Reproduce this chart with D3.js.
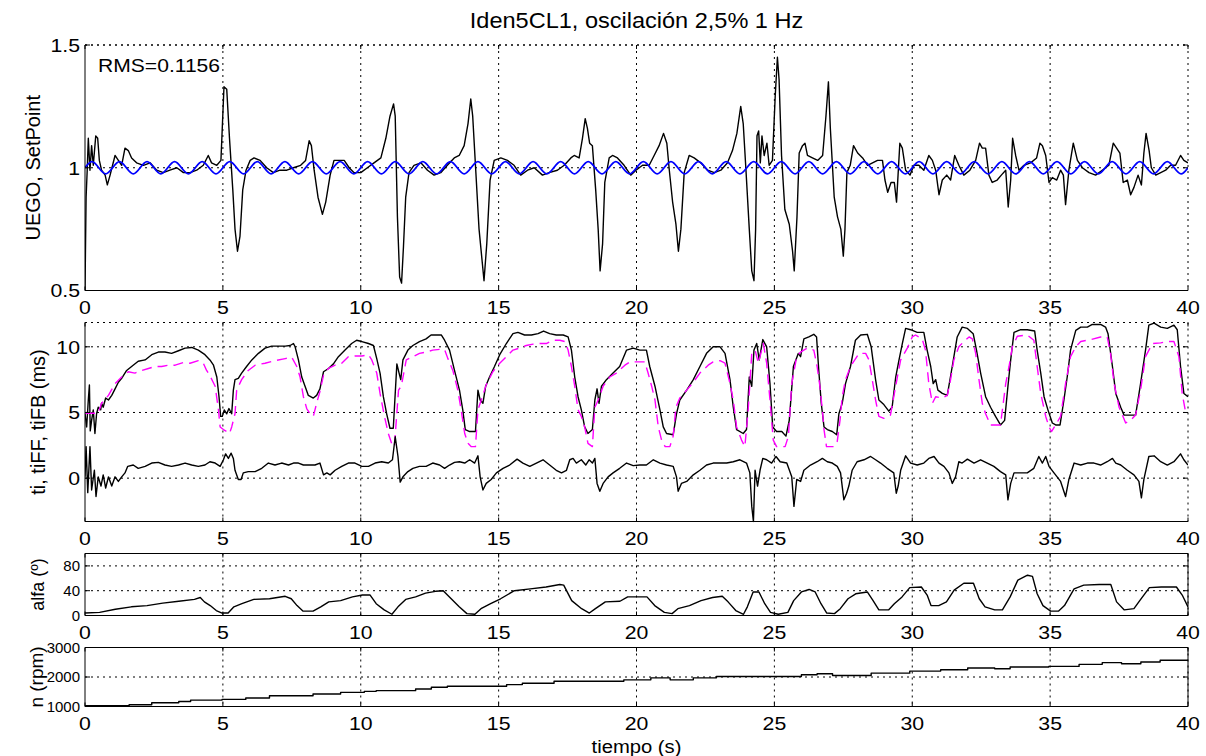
<!DOCTYPE html>
<html>
<head>
<meta charset="utf-8">
<script src="https://cdn.jsdelivr.net/npm/d3@7"></script>
<style>
  body { margin: 0; background: #fff; }
  svg { display: block; }
  text { font-family: "Liberation Sans", Arial, sans-serif; fill: #000; }
</style>
</head>
<body>
<div id="viz-container"></div>
<script>
// x ticks shared by all four subplots
const timeTicks = [0, 5, 10, 15, 20, 25, 30, 35, 40];

// UEGO lambda reading [t (s), value]
const uego = [[0,0.5],[0.04,0.88],[0.08,0.99],[0.12,1.12],[0.18,0.99],[0.24,1.09],[0.3,1.01],[0.39,1.13],[0.46,1.12],
  [0.52,1.03],[0.6,0.99],[0.73,0.97],[0.81,0.93],[0.91,0.97],[1.0,1.01],[1.09,1.05],[1.21,1.03],[1.33,1.01],[1.45,1.08],
  [1.57,1.07],[1.69,1.04],[1.87,1.02],[2.12,1.01],[2.36,1.02],[2.6,0.99],[2.84,0.98],[3.08,0.99],[3.33,1.0],[3.57,0.98],
  [3.81,0.98],[4.05,0.99],[4.29,1.01],[4.47,1.05],[4.59,1.02],[4.78,1.01],[4.93,1.03],[5.04,1.33],[5.14,1.32],[5.24,1.12],
  [5.36,0.91],[5.44,0.75],[5.53,0.66],[5.62,0.72],[5.72,0.91],[5.84,0.99],[5.99,1.03],[6.13,1.04],[6.35,1.03],[6.59,1.0],
  [6.83,0.98],[7.07,0.99],[7.32,0.99],[7.56,1.0],[7.82,1.01],[8.0,1.03],[8.13,1.11],[8.21,1.09],[8.31,0.99],[8.45,0.88],
  [8.61,0.81],[8.73,0.86],[8.89,0.97],[9.03,1.03],[9.21,1.03],[9.4,1.03],[9.58,1.0],[9.76,0.98],[10.0,0.98],[10.24,1.0],
  [10.48,1.02],[10.73,1.04],[10.91,1.12],[11.06,1.21],[11.19,1.26],[11.25,1.21],[11.33,0.8],[11.41,0.555],[11.48,0.53],
  [11.55,0.68],[11.63,0.88],[11.75,0.98],[11.93,1.01],[12.18,1.02],[12.42,0.99],[12.66,0.97],[12.9,0.98],[13.14,1.01],
  [13.39,1.04],[13.57,1.05],[13.75,1.09],[13.89,1.18],[13.99,1.28],[14.06,1.21],[14.17,0.99],[14.29,0.75],[14.41,0.61],
  [14.47,0.54],[14.57,0.69],[14.69,0.95],[14.84,1.03],[15.08,1.04],[15.32,1.03],[15.56,1.01],[15.8,0.97],[16.05,0.99],
  [16.29,1.0],[16.59,0.97],[16.83,0.98],[17.13,0.99],[17.38,1.01],[17.62,1.04],[17.74,1.05],[17.92,1.04],[18.04,1.12],
  [18.14,1.2],[18.22,1.16],[18.3,1.1],[18.4,1.09],[18.52,0.91],[18.61,0.75],[18.68,0.58],[18.77,0.69],[18.85,0.94],
  [19.01,1.04],[19.13,1.05],[19.31,1.04],[19.55,1.01],[19.79,0.97],[19.98,0.99],[20.22,1.01],[20.46,1.01],[20.64,1.05],
  [20.82,1.09],[20.98,1.14],[21.1,1.1],[21.19,0.99],[21.31,0.86],[21.43,0.77],[21.52,0.66],[21.61,0.75],[21.73,0.98],
  [21.91,1.05],[22.09,1.04],[22.33,1.02],[22.58,0.99],[22.82,0.98],[23.06,0.99],[23.3,1.02],[23.48,1.07],[23.64,1.14],
  [23.78,1.25],[23.87,1.18],[23.97,0.99],[24.09,0.75],[24.18,0.58],[24.26,0.54],[24.32,0.75],[24.37,1.13],[24.43,1.15],
  [24.49,1.02],[24.55,1.13],[24.63,1.05],[24.73,1.1],[24.81,1.01],[24.93,1.03],[25.03,1.29],[25.11,1.45],[25.17,1.36],
  [25.26,1.05],[25.38,0.83],[25.54,0.77],[25.66,0.66],[25.72,0.58],[25.82,0.8],[25.9,1.06],[26.02,1.09],[26.11,1.1],
  [26.2,1.05],[26.38,1.04],[26.57,1.03],[26.75,1.05],[26.87,1.21],[26.96,1.35],[27.03,1.16],[27.17,0.88],[27.29,0.8],
  [27.41,0.75],[27.5,0.64],[27.56,0.75],[27.63,0.98],[27.75,1.01],[27.87,1.09],[28.02,1.06],[28.2,1.04],[28.38,1.01],
  [28.56,1.02],[28.74,1.03],[28.92,1.03],[29.01,0.95],[29.11,0.9],[29.23,0.94],[29.35,0.94],[29.43,0.86],[29.55,1.1],
  [29.64,1.08],[29.76,0.99],[29.92,0.97],[30.06,1.01],[30.24,1.01],[30.42,0.99],[30.6,1.05],[30.73,1.03],[30.85,0.99],
  [30.97,0.89],[31.09,0.95],[31.25,0.97],[31.39,0.95],[31.54,1.05],[31.69,1.01],[31.87,0.97],[32.09,0.99],[32.3,1.03],
  [32.44,1.1],[32.54,1.08],[32.66,1.08],[32.78,0.97],[32.9,0.94],[33.08,0.95],[33.23,0.97],[33.39,0.99],[33.48,0.84],
  [33.57,0.95],[33.64,1.12],[33.75,1.05],[33.87,0.99],[34.05,1.01],[34.29,1.02],[34.51,1.04],[34.63,1.1],[34.72,1.09],
  [34.84,1.05],[34.96,0.94],[35.08,0.96],[35.24,0.95],[35.38,0.99],[35.48,0.97],[35.56,0.85],[35.68,0.99],[35.84,1.1],
  [35.99,1.03],[36.17,1.0],[36.41,0.98],[36.65,0.97],[36.89,0.99],[37.13,1.01],[37.29,1.1],[37.41,1.08],[37.53,1.06],
  [37.65,0.94],[37.8,0.95],[37.92,0.89],[38.04,0.92],[38.19,0.97],[38.31,0.93],[38.4,1.06],[38.48,1.14],[38.59,1.07],
  [38.67,1.0],[38.83,0.97],[39.01,0.98],[39.19,0.99],[39.37,1.01],[39.55,1.01],[39.73,1.05],[39.85,1.03],[40.0,1.02]];

// set point, sampled every 0.25 s
const spStep = 0.25;
const setPoint = [
  1,1.025,1,0.975, 1,1.025,1,0.975, 1,1.025,1,0.975, 1,1.025,1,0.975, 1,1.025,1,0.975,
  1,1.025,1,0.975, 1,1.025,1,0.975, 1,1.025,1,0.975, 1,1.025,1,0.975, 1,1.025,1,0.975,
  1,1.025,1,0.975, 1,1.025,1,0.975, 1,1.025,1,0.975, 1,1.025,1,0.975, 1,1.025,1,0.975,
  1,1.025,1,0.975, 1,1.025,1,0.975, 1,1.025,1,0.975, 1,1.025,1,0.975, 1,1.025,1,0.975,
  1,1.025,1,0.975, 1,1.025,1,0.975, 1,1.025,1,0.975, 1,1.025,1,0.975, 1,1.025,1,0.975,
  1,1.025,1,0.975, 1,1.025,1,0.975, 1,1.025,1,0.975, 1,1.025,1,0.975, 1,1.025,1,0.975,
  1,1.025,1,0.975, 1,1.025,1,0.975, 1,1.025,1,0.975, 1,1.025,1,0.975, 1,1.025,1,0.975,
  1,1.025,1,0.975, 1,1.025,1,0.975, 1,1.025,1,0.975, 1,1.025,1,0.975, 1,1.025,1,0.975,
  1];

// injection time total (ms)
const ti = [[0,4.94],[0.06,3.9],[0.12,5.95],[0.16,7.1],[0.19,3.6],[0.24,4.4],[0.3,5.2],[0.36,3.4],[0.42,4.9],[0.48,5.4],
  [0.57,5.2],[0.6,5.7],[0.66,5.4],[0.75,6.1],[0.85,5.95],[0.97,6.3],[1.09,6.8],[1.21,7.3],[1.33,7.6],[1.51,8.2],
  [1.69,8.5],[1.93,8.9],[2.18,9.0],[2.42,9.4],[2.66,9.6],[2.9,9.6],[3.14,9.5],[3.39,9.7],[3.63,9.9],[3.87,9.95],
  [4.11,9.75],[4.35,9.4],[4.53,9.0],[4.66,8.6],[4.78,7.7],[4.86,6.2],[4.92,4.7],[4.98,4.7],[5.05,5.2],[5.14,4.9],
  [5.22,5.3],[5.32,4.9],[5.38,6.7],[5.44,7.5],[5.56,7.6],[5.68,8.0],[5.86,8.5],[6.05,9.0],[6.29,9.5],[6.53,9.9],
  [6.77,10.05],[7.01,10.05],[7.26,10.05],[7.44,10.1],[7.56,10.25],[7.62,10.0],[7.74,9.0],[7.86,7.7],[7.98,7.0],
  [8.1,6.3],[8.28,6.1],[8.4,6.3],[8.52,6.8],[8.65,8.1],[8.83,8.35],[9.01,8.7],[9.19,9.25],[9.43,9.75],[9.67,10.25],
  [9.85,10.5],[10.04,10.4],[10.28,10.25],[10.46,10.1],[10.58,9.1],[10.7,8.0],[10.82,6.2],[10.94,4.9],[11.06,3.8],
  [11.18,3.8],[11.31,8.7],[11.39,8.0],[11.45,7.5],[11.53,9.0],[11.71,9.75],[11.89,10.1],[12.13,10.4],[12.37,10.6],
  [12.55,10.9],[12.74,10.9],[12.92,10.9],[13.04,10.5],[13.22,9.75],[13.4,8.2],[13.58,6.7],[13.7,5.2],[13.79,3.7],
  [13.95,3.55],[14.16,3.55],[14.25,6.7],[14.33,5.95],[14.43,5.7],[14.53,7.0],[14.67,7.7],[14.85,8.5],[15.04,9.4],
  [15.28,10.25],[15.52,11.0],[15.7,11.1],[15.94,10.9],[16.19,10.9],[16.43,11.0],[16.63,11.2],[16.85,11.0],[17.09,10.9],
  [17.34,10.9],[17.52,10.75],[17.64,9.75],[17.76,7.7],[17.88,6.2],[18.0,5.2],[18.12,3.9],[18.24,3.4],[18.4,3.7],
  [18.49,5.95],[18.57,6.8],[18.64,5.7],[18.73,7.0],[18.91,7.5],[19.15,8.0],[19.39,8.5],[19.64,9.75],[19.88,9.9],
  [20.12,9.75],[20.36,9.75],[20.48,8.5],[20.67,7.0],[20.85,5.2],[20.97,3.9],[21.09,3.4],[21.33,3.3],[21.45,4.9],
  [21.57,5.95],[21.82,6.7],[22.06,7.5],[22.3,8.5],[22.54,9.5],[22.78,10.0],[23.03,10.0],[23.21,9.5],[23.39,7.5],
  [23.51,5.4],[23.63,3.7],[23.87,3.4],[23.99,3.7],[24.09,7.7],[24.18,7.0],[24.26,9.75],[24.36,10.25],[24.45,9.0],
  [24.58,10.55],[24.72,10.0],[24.84,7.2],[24.94,3.9],[25.08,3.55],[25.27,3.55],[25.42,3.2],[25.54,4.4],[25.69,8.5],
  [25.87,9.5],[25.95,9.25],[26.07,10.6],[26.25,10.75],[26.43,10.95],[26.53,10.75],[26.61,8.2],[26.7,5.7],[26.8,3.9],
  [26.92,3.7],[27.1,3.55],[27.26,3.3],[27.34,4.9],[27.46,5.7],[27.58,7.2],[27.76,8.5],[27.94,10.5],[28.13,10.9],
  [28.37,10.95],[28.51,10.0],[28.67,7.5],[28.79,5.95],[28.97,5.6],[29.15,5.1],[29.27,5.4],[29.4,7.7],[29.52,9.0],
  [29.64,10.25],[29.76,11.4],[29.94,11.3],[30.18,11.1],[30.42,11.1],[30.54,9.75],[30.67,8.5],[30.76,7.2],[30.85,7.5],
  [30.93,6.7],[31.09,6.45],[31.27,6.3],[31.45,8.5],[31.63,10.75],[31.81,11.5],[32.0,11.4],[32.21,11.0],[32.33,9.75],
  [32.48,8.0],[32.66,6.2],[32.84,5.4],[33.02,4.7],[33.2,4.05],[33.35,4.4],[33.47,7.0],[33.57,9.0],[33.69,11.1],
  [33.93,11.3],[34.17,11.3],[34.44,11.2],[34.53,9.75],[34.66,8.0],[34.78,6.2],[34.92,5.2],[35.08,4.2],[35.2,4.05],
  [35.36,4.05],[35.5,5.95],[35.62,7.7],[35.74,9.75],[35.93,11.25],[36.11,11.5],[36.35,11.5],[36.53,11.7],[36.83,11.7],
  [37.01,11.5],[37.1,11.0],[37.26,8.5],[37.38,6.45],[37.56,5.4],[37.68,4.8],[37.92,4.8],[38.1,4.8],[38.28,7.2],
  [38.46,9.75],[38.58,11.65],[38.77,11.8],[39.01,11.5],[39.25,11.4],[39.49,11.65],[39.61,11.3],[39.73,8.5],
  [39.85,6.45],[40.0,6.2]];

// feed-forward part (ms)
const tiFF = [[0,4.94],[0.48,4.94],[0.6,5.7],[0.85,6.3],[1.09,7.2],[1.33,7.7],[1.57,8.1],[1.81,8.0],[2.06,8.2],[2.3,8.35],
  [2.54,8.5],[2.78,8.5],[3.02,8.6],[3.27,8.6],[3.57,8.8],[3.81,8.75],[4.11,8.95],[4.29,8.75],[4.41,8.2],[4.53,7.8],
  [4.72,7.0],[4.84,5.2],[4.9,3.9],[5.02,3.7],[5.14,3.55],[5.24,3.4],[5.32,3.9],[5.44,4.9],[5.5,6.7],[5.68,7.5],
  [5.92,8.2],[6.17,8.6],[6.53,8.75],[6.89,8.95],[7.26,9.1],[7.5,9.2],[7.68,8.5],[7.8,7.7],[7.92,6.2],[8.04,5.3],
  [8.16,4.9],[8.28,4.7],[8.4,5.7],[8.52,6.6],[8.65,7.85],[8.83,8.35],[9.07,8.6],[9.31,8.75],[9.55,9.25],[9.79,9.3],
  [10.04,9.3],[10.28,9.4],[10.4,9.0],[10.58,8.0],[10.7,6.45],[10.86,4.7],[11.0,3.4],[11.12,2.65],[11.22,2.4],
  [11.37,6.7],[11.47,7.0],[11.65,9.0],[11.89,9.25],[12.13,9.5],[12.37,9.6],[12.61,9.75],[12.86,9.8],[13.04,9.8],
  [13.16,9.1],[13.34,8.2],[13.52,6.7],[13.64,5.2],[13.77,3.4],[13.89,2.65],[14.01,2.4],[14.16,2.4],[14.25,5.2],
  [14.37,5.95],[14.55,7.1],[14.79,8.1],[15.04,8.75],[15.28,9.25],[15.52,9.75],[15.76,9.9],[16.0,10.1],[16.25,10.2],
  [16.49,10.25],[16.73,10.25],[16.97,10.5],[17.22,10.5],[17.4,10.4],[17.52,9.75],[17.64,8.5],[17.76,7.0],[17.88,5.2],
  [18.0,4.7],[18.12,3.9],[18.24,2.65],[18.4,2.4],[18.49,5.4],[18.61,5.95],[18.79,7.0],[19.03,7.7],[19.27,8.0],
  [19.58,8.6],[19.76,8.85],[20.0,8.85],[20.3,8.85],[20.42,8.0],[20.55,7.0],[20.67,5.95],[20.79,3.9],[20.91,2.9],
  [21.04,2.4],[21.21,2.4],[21.33,3.2],[21.43,5.4],[21.57,6.1],[21.82,6.7],[22.06,7.3],[22.3,8.0],[22.6,8.6],
  [22.78,8.85],[23.03,8.95],[23.21,8.75],[23.39,7.2],[23.51,5.95],[23.63,3.9],[23.81,2.9],[23.93,2.4],[24.05,5.2],
  [24.18,9.5],[24.3,9.75],[24.42,8.75],[24.6,10.25],[24.72,8.75],[24.84,5.95],[24.96,2.9],[25.08,2.4],[25.39,2.4],
  [25.51,3.2],[25.63,7.2],[25.81,9.25],[25.95,9.6],[26.19,9.9],[26.43,9.75],[26.55,8.5],[26.65,7.0],[26.74,5.2],
  [26.8,3.7],[26.89,2.4],[27.16,2.4],[27.28,2.8],[27.38,4.4],[27.46,6.2],[27.58,7.5],[27.76,8.5],[28.07,9.5],
  [28.31,9.5],[28.43,9.0],[28.55,7.5],[28.67,5.95],[28.79,4.7],[28.97,4.55],[29.21,4.8],[29.33,6.2],[29.46,7.7],
  [29.58,9.0],[29.82,9.9],[30.0,10.75],[30.12,10.9],[30.36,10.6],[30.48,9.75],[30.6,7.2],[30.73,5.7],[30.85,6.2],
  [31.09,6.1],[31.27,6.3],[31.39,7.5],[31.51,9.0],[31.69,10.0],[31.87,10.4],[32.06,10.75],[32.18,10.6],[32.3,9.5],
  [32.42,7.5],[32.54,5.7],[32.66,4.9],[32.84,4.05],[33.02,4.05],[33.2,4.05],[33.39,7.2],[33.51,8.5],[33.63,10.0],
  [33.81,10.8],[34.17,10.9],[34.41,10.5],[34.53,8.5],[34.66,6.45],[34.84,4.7],[34.96,3.9],[35.05,3.55],[35.2,4.05],
  [35.38,4.7],[35.56,7.2],[35.74,9.25],[35.93,10.0],[36.11,10.4],[36.47,10.55],[36.83,10.75],[37.07,10.75],
  [37.19,9.5],[37.32,7.2],[37.5,5.4],[37.62,4.8],[37.74,4.2],[37.92,4.4],[38.1,4.8],[38.28,6.7],[38.46,9.25],
  [38.71,10.25],[39.01,10.3],[39.25,10.4],[39.49,10.4],[39.67,9.25],[39.79,6.45],[39.91,5.05],[40.0,4.9]];

// feedback part (ms)
const tiFB = [[0,0.1],[0.04,2.4],[0.1,-1.1],[0.18,2.4],[0.24,-0.9],[0.34,0.6],[0.4,-1.4],[0.48,0.1],[0.58,-0.6],
  [0.66,0.25],[0.75,-0.75],[0.85,0.1],[0.97,-0.6],[1.09,0.1],[1.21,-0.25],[1.33,0.1],[1.45,0.4],[1.55,0.9],[1.75,1.0],
  [1.93,0.75],[2.18,0.9],[2.42,1.15],[2.66,1.2],[2.9,1.0],[3.14,0.9],[3.39,1.0],[3.63,1.15],[3.87,1.0],[4.11,0.9],
  [4.35,1.0],[4.53,1.25],[4.72,1.15],[4.9,0.9],[5.02,1.4],[5.1,1.85],[5.2,1.5],[5.3,1.9],[5.38,1.5],[5.44,0.6],
  [5.56,-0.1],[5.66,-0.1],[5.74,0.4],[5.92,0.5],[6.17,0.5],[6.41,0.75],[6.65,1.15],[6.89,1.0],[7.13,1.15],[7.38,1.0],
  [7.56,1.15],[7.74,1.15],[7.92,1.0],[8.1,1.0],[8.34,1.0],[8.52,1.15],[8.65,0.25],[8.77,0.4],[8.89,0.25],[9.07,0.6],
  [9.31,0.9],[9.55,1.15],[9.79,1.15],[10.04,0.9],[10.28,0.9],[10.52,1.15],[10.76,1.25],[11.0,1.15],[11.15,1.4],
  [11.25,3.15],[11.35,1.65],[11.43,-0.3],[11.53,0.1],[11.71,0.5],[11.89,0.75],[12.13,0.9],[12.37,0.9],[12.61,1.15],
  [12.86,1.0],[13.04,0.75],[13.22,1.0],[13.4,1.2],[13.58,1.25],[13.77,1.15],[13.95,1.4],[14.13,1.15],[14.25,1.7],
  [14.33,0.1],[14.43,-0.9],[14.55,-0.4],[14.73,-0.1],[14.92,0.4],[15.16,0.75],[15.4,1.0],[15.67,1.45],[15.88,1.15],
  [16.13,0.9],[16.37,1.15],[16.61,1.4],[16.85,1.0],[17.09,0.6],[17.28,0.4],[17.46,0.6],[17.58,1.4],[17.7,1.5],
  [17.82,1.15],[18.0,1.4],[18.16,1.0],[18.28,1.4],[18.4,1.15],[18.49,1.5],[18.57,-0.4],[18.67,-1.0],[18.79,-0.4],
  [18.97,0.1],[19.15,0.4],[19.39,0.75],[19.64,1.15],[19.88,0.95],[20.12,1.0],[20.36,1.0],[20.61,1.4],[20.85,1.15],
  [21.09,1.0],[21.33,0.9],[21.45,0.1],[21.51,-1.0],[21.63,-0.4],[21.82,-0.25],[22.06,0.25],[22.3,0.6],[22.54,1.0],
  [22.78,1.15],[23.03,1.15],[23.27,1.15],[23.51,1.25],[23.75,1.4],[23.99,1.15],[24.11,0.4],[24.18,-2.15],[24.24,-3.3],
  [24.3,0.6],[24.39,-0.6],[24.48,0.6],[24.58,1.5],[24.72,1.4],[24.9,1.15],[25.06,1.65],[25.21,1.25],[25.45,1.15],
  [25.63,0.1],[25.71,-2.15],[25.81,-0.1],[25.95,-0.25],[26.07,0.6],[26.31,1.0],[26.55,1.25],[26.74,1.5],[26.92,1.25],
  [27.1,1.15],[27.28,0.9],[27.4,0.4],[27.52,-1.65],[27.62,-1.15],[27.7,-0.6],[27.82,0.6],[28.0,1.25],[28.25,1.4],
  [28.49,1.65],[28.67,1.4],[28.85,1.15],[29.09,0.75],[29.33,0.4],[29.42,-1.15],[29.49,-0.6],[29.58,0.6],[29.76,1.7],
  [29.94,1.15],[30.18,1.0],[30.42,1.15],[30.6,1.5],[30.79,1.65],[30.97,1.15],[31.15,0.9],[31.33,0.4],[31.45,-0.4],
  [31.57,0.1],[31.69,1.25],[31.81,1.15],[32.0,1.45],[32.24,1.15],[32.48,1.4],[32.72,1.15],[32.96,0.9],[33.2,0.5],
  [33.39,0.25],[33.47,-1.65],[33.57,-0.4],[33.69,0.4],[33.93,0.4],[34.17,0.4],[34.41,0.75],[34.59,1.65],[34.72,1.15],
  [34.84,1.65],[34.96,0.9],[35.14,0.4],[35.38,-0.25],[35.56,-1.4],[35.68,-0.1],[35.87,1.15],[36.11,1.0],[36.35,1.15],
  [36.59,1.15],[36.83,1.0],[37.07,1.25],[37.26,1.5],[37.38,1.15],[37.56,1.0],[37.8,0.6],[38.04,0.25],[38.22,-0.25],
  [38.31,-1.5],[38.4,-0.1],[38.58,1.65],[38.77,1.7],[39.01,1.25],[39.25,1.0],[39.49,1.25],[39.73,1.85],[39.85,1.4],
  [40.0,1.0]];

// throttle angle alfa (deg)
const alfa = [[0,4],[0.53,5],[1.1,10],[1.68,14],[2.25,16],[2.82,20],[3.4,23],[3.97,26],[4.18,29],[4.33,22],[4.54,16],
  [4.76,8],[4.97,4],[5.19,4],[5.4,14],[5.69,19],[6.12,26],[6.69,27],[7.26,31],[7.48,27],[7.69,16],[7.91,7],[8.27,7],
  [8.55,14],[8.84,22],[9.27,24],[9.7,30],[10.06,33],[10.34,33],[10.56,19],[10.85,9],[11.13,2],[11.35,14],[11.63,26],
  [11.99,30],[12.35,36],[12.71,39],[12.99,40],[13.28,27],[13.57,14],[13.85,3],[14.14,2],[14.36,11],[14.71,19],
  [15.07,27],[15.57,40],[16.15,43],[16.72,46],[17.22,50],[17.36,49],[17.65,24],[18.01,11],[18.29,4],[18.51,11],
  [18.87,22],[19.4,23],[19.68,30],[20.38,30],[20.66,16],[21.01,5],[21.29,3],[21.5,11],[21.92,16],[22.34,24],
  [22.76,29],[23.11,31],[23.32,22],[23.6,8],[23.88,2],[24.02,14],[24.23,38],[24.44,38],[24.65,19],[24.86,5],
  [25.14,2],[25.49,5],[25.7,24],[25.98,38],[26.26,42],[26.48,38],[26.69,19],[26.9,4],[27.18,3],[27.39,11],[27.67,27],
  [27.95,35],[28.37,38],[28.58,24],[28.79,9],[29.14,9],[29.35,19],[29.63,30],[29.91,45],[30.33,46],[30.54,33],
  [30.68,16],[30.96,16],[31.24,22],[31.52,41],[31.87,52],[32.22,52],[32.43,27],[32.64,14],[32.99,9],[33.27,9],
  [33.55,30],[33.83,57],[34.18,65],[34.36,63],[34.53,35],[34.74,16],[35.02,7],[35.3,7],[35.52,16],[35.87,43],
  [36.22,49],[36.78,50],[37.2,50],[37.41,22],[37.69,9],[38.04,11],[38.25,24],[38.6,45],[39.03,46],[39.58,46],
  [39.79,33],[40.0,14]];

// engine speed (rpm), stepwise
const rpm = [[0,1023],[1.6,1057],[2.42,1126],[3.4,1170],[3.83,1217],[4.97,1240],[5.83,1286],[6.69,1366],[8.27,1423],
  [9.27,1480],[10.13,1514],[10.56,1537],[11.99,1594],[12.56,1651],[13.14,1686],[15.29,1743],[15.86,1789],[17.01,1857],
  [19.54,1903],[20.52,1971],[21.22,1903],[22.06,1971],[22.9,2017],[25.98,2074],[26.55,2109],[27.11,2051],[28.51,2131],
  [29.91,2200],[31.03,2246],[32.01,2303],[32.99,2280],[33.55,2337],[34.95,2360],[36.05,2429],[36.89,2486],[37.59,2451],
  [38.29,2509],[38.99,2566],[40.0,2566]];

const W = 1206, H = 756;
const svg = d3.select("#viz-container").append("svg")
    .attr("width", W).attr("height", H);

const x = d3.scaleLinear().domain([0, 40]).range([85, 1188]);

// subplot layout
const panels = [
  { top: 45, bottom: 290.5, domain: [0.5, 1.5], ticks: [0.5, 1, 1.5], tfs: 19, tsx: 1.12, label: "UEGO, SetPoint", lfs: 20, lx: 40, box: false },
  { top: 322.5, bottom: 521.5, domain: [-3.3, 11.85], ticks: [0, 5, 10], tfs: 19, tsx: 1.12, label: "ti, tiFF, tiFB (ms)", lfs: 20, lx: 45, box: false },
  { top: 553.5, bottom: 615.5, domain: [0, 100], ticks: [0, 40, 80], tfs: 15, tsx: 1.0, label: "alfa (º)", lfs: 18, lx: 44, box: true },
  { top: 647.5, bottom: 706.5, domain: [1000, 3000], ticks: [1000, 2000, 3000], tfs: 15, tsx: 1.0, label: "n (rpm)", lfs: 19, lx: 43, box: true }
];

const dotted = "2,4";

// text whose glyphs are widened a little, like the original export
function wideText(g, x0, y0, str, size, sx, anchor) {
  return g.append("text")
    .attr("transform", `translate(${x0},${y0}) scale(${sx},1)`)
    .attr("text-anchor", anchor || "start")
    .attr("font-size", size)
    .text(str);
}

panels.forEach((p, i) => {
  p.y = d3.scaleLinear().domain(p.domain).range([p.bottom, p.top]);
  const g = svg.append("g");

  // grid
  g.selectAll(".gx").data(timeTicks.filter(d => d > 0)).enter().append("line")
    .attr("x1", d => x(d)).attr("x2", d => x(d))
    .attr("y1", p.top).attr("y2", p.bottom)
    .attr("stroke", "#000").attr("stroke-width", 1).attr("stroke-dasharray", dotted);
  g.selectAll(".gy").data(p.ticks.filter(d => d > p.domain[0])).enter().append("line")
    .attr("x1", 85).attr("x2", 1188)
    .attr("y1", d => p.y(d)).attr("y2", d => p.y(d))
    .attr("stroke", "#000").attr("stroke-width", 1).attr("stroke-dasharray", dotted);
  if (!p.box) {
    g.append("line").attr("x1", 85).attr("x2", 1188).attr("y1", p.top).attr("y2", p.top)
      .attr("stroke", "#000").attr("stroke-dasharray", dotted);
  }

  // clip for data
  svg.append("clipPath").attr("id", "clip" + i).append("rect")
    .attr("x", 85).attr("y", p.top - 1).attr("width", 1103).attr("height", p.bottom - p.top + 2);
  p.plot = svg.append("g").attr("clip-path", "url(#clip" + i + ")");
});

function drawLine(p, data, color, width, dash, curve) {
  const line = d3.line().x(d => x(d[0])).y(d => p.y(d[1])).curve(curve || d3.curveLinear);
  p.plot.append("path").datum(data)
    .attr("d", line).attr("fill", "none")
    .attr("stroke", color).attr("stroke-width", width)
    .attr("stroke-dasharray", dash || null)
    .attr("stroke-linejoin", "round");
}

// subplot 1
drawLine(panels[0], uego, "#000", 1.4);
drawLine(panels[0], setPoint.map((v, k) => [k * spStep, v]), "#0000ff", 1.8, null, d3.curveNatural);
// subplot 2
drawLine(panels[1], ti, "#000", 1.4);
drawLine(panels[1], tiFF, "#ff00ff", 1.4, "10,6");
drawLine(panels[1], tiFB, "#000", 1.4);
// subplot 3 and 4
drawLine(panels[2], alfa, "#000", 1.4);
drawLine(panels[3], rpm, "#000", 1.4, null, d3.curveStepAfter);

// axes, ticks, labels
panels.forEach(p => {
  const g = svg.append("g");
  g.append("line").attr("x1", 85).attr("x2", 85).attr("y1", p.top).attr("y2", p.bottom).attr("stroke", "#000");
  g.append("line").attr("x1", 85).attr("x2", 1188).attr("y1", p.bottom).attr("y2", p.bottom).attr("stroke", "#000");
  if (p.box) {
    g.append("line").attr("x1", 85).attr("x2", 1188).attr("y1", p.top).attr("y2", p.top).attr("stroke", "#000");
    g.append("line").attr("x1", 1188).attr("x2", 1188).attr("y1", p.top).attr("y2", p.bottom).attr("stroke", "#000");
  }
  // tick marks (inside)
  g.selectAll(".tx").data(timeTicks).enter().append("line")
    .attr("x1", d => x(d)).attr("x2", d => x(d))
    .attr("y1", p.bottom).attr("y2", p.bottom - 4).attr("stroke", "#000");
  g.selectAll(".tx2").data(timeTicks).enter().append("line")
    .attr("x1", d => x(d)).attr("x2", d => x(d))
    .attr("y1", p.top).attr("y2", p.top + 4).attr("stroke", "#000");
  g.selectAll(".ty").data(p.ticks).enter().append("line")
    .attr("x1", 85).attr("x2", 90)
    .attr("y1", d => p.y(d)).attr("y2", d => p.y(d)).attr("stroke", "#000");
  g.selectAll(".ty2").data(p.ticks).enter().append("line")
    .attr("x1", 1183).attr("x2", 1188)
    .attr("y1", d => p.y(d)).attr("y2", d => p.y(d)).attr("stroke", "#000");

  timeTicks.forEach(d => wideText(g, x(d), p.bottom + 23, d, 19, 1.12, "middle"));
  p.ticks.forEach(d => wideText(g, 80, p.y(d) + p.tfs * 0.36, d, p.tfs, p.tsx, "end"));

  g.append("text")
    .attr("transform", `translate(${p.lx},${(p.top + p.bottom) / 2}) rotate(-90)`)
    .attr("text-anchor", "middle").attr("font-size", p.lfs)
    .text(p.label);
});

wideText(svg, 98, 72, "RMS=0.1156", 18.5, 1.14);
wideText(svg, 636.5, 28, "Iden5CL1, oscilación 2,5% 1 Hz", 22, 1.07, "middle");
wideText(svg, 636.5, 753, "tiempo (s)", 19, 1.065, "middle");
</script>
</body>
</html>
